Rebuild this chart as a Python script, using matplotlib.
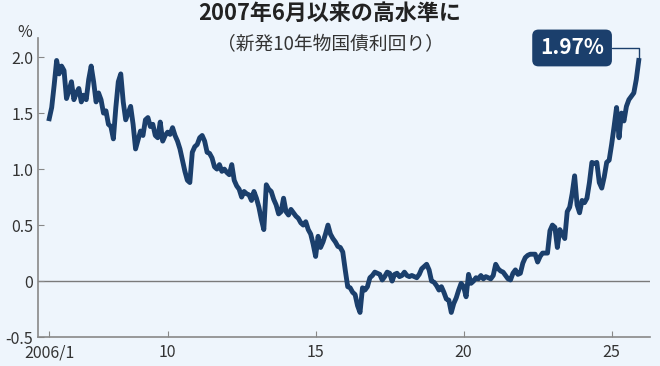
import matplotlib
matplotlib.use("Agg")
import matplotlib.pyplot as plt
from matplotlib import font_manager
import numpy as np

plt.rcParams['font.family'] = ['Noto Sans CJK JP', 'DejaVu Sans']

# monthly 10-year JGB yield (%)
y2006 = [1.45, 1.55, 1.75, 1.97, 1.85, 1.92, 1.88, 1.63, 1.70, 1.78, 1.62, 1.68]
y2007 = [1.72, 1.60, 1.66, 1.62, 1.80, 1.92, 1.78, 1.60, 1.68, 1.62, 1.50, 1.52]
y2008 = [1.40, 1.38, 1.27, 1.55, 1.78, 1.85, 1.60, 1.44, 1.50, 1.56, 1.40, 1.18]
y2009 = [1.26, 1.34, 1.30, 1.44, 1.46, 1.38, 1.40, 1.30, 1.28, 1.42, 1.25, 1.30]
y2010 = [1.33, 1.31, 1.37, 1.30, 1.25, 1.18, 1.08, 0.98, 0.90, 0.88, 1.15, 1.20]
y2011 = [1.22, 1.28, 1.30, 1.25, 1.15, 1.14, 1.10, 1.02, 1.00, 1.04, 0.98, 1.00]
y2012 = [0.97, 0.95, 1.04, 0.90, 0.85, 0.82, 0.75, 0.80, 0.78, 0.77, 0.72, 0.80]
y2013 = [0.74, 0.66, 0.55, 0.46, 0.86, 0.82, 0.80, 0.73, 0.68, 0.60, 0.62, 0.74]
y2014 = [0.62, 0.59, 0.64, 0.61, 0.58, 0.56, 0.52, 0.50, 0.53, 0.46, 0.42, 0.33]
y2015 = [0.22, 0.40, 0.30, 0.35, 0.42, 0.50, 0.42, 0.38, 0.35, 0.31, 0.30, 0.26]
y2016 = [0.10, -0.05, -0.06, -0.10, -0.12, -0.22, -0.28, -0.06, -0.08, -0.05, 0.03, 0.05]
y2017 = [0.08, 0.07, 0.06, 0.01, 0.04, 0.08, 0.07, 0.00, 0.06, 0.07, 0.04, 0.05]
y2018 = [0.08, 0.05, 0.04, 0.05, 0.04, 0.03, 0.06, 0.11, 0.13, 0.15, 0.10, 0.00]
y2019 = [-0.01, -0.04, -0.08, -0.05, -0.10, -0.16, -0.17, -0.28, -0.20, -0.15, -0.08, -0.02]
y2020 = [-0.05, -0.14, 0.06, -0.02, 0.00, 0.03, 0.02, 0.05, 0.02, 0.04, 0.03, 0.02]
y2021 = [0.05, 0.15, 0.11, 0.09, 0.08, 0.05, 0.02, 0.01, 0.07, 0.10, 0.06, 0.07]
y2022 = [0.16, 0.21, 0.23, 0.24, 0.24, 0.24, 0.17, 0.22, 0.25, 0.25, 0.25, 0.45]
y2023 = [0.50, 0.48, 0.30, 0.46, 0.42, 0.38, 0.62, 0.66, 0.78, 0.94, 0.68, 0.61]
y2024 = [0.72, 0.70, 0.74, 0.88, 1.06, 1.05, 1.06, 0.88, 0.83, 0.93, 1.06, 1.08]
y2025 = [1.22, 1.38, 1.55, 1.28, 1.50, 1.43, 1.56, 1.62, 1.65, 1.68, 1.80, 1.97]

yields = (y2006 + y2007 + y2008 + y2009 + y2010 + y2011 + y2012 + y2013 + y2014 +
          y2015 + y2016 + y2017 + y2018 + y2019 + y2020 + y2021 + y2022 + y2023 +
          y2024 + y2025)
t = 2006 + np.arange(len(yields)) / 12.0

tick_pos = [2006, 2010, 2015, 2020, 2025]
tick_lab = ['2006/1', '10', '15', '20', '25']
ytick_pos = [-0.5, 0, 0.5, 1.0, 1.5, 2.0]
ytick_lab = ['-0.5', '0', '0.5', '1.0', '1.5', '2.0']

bg = '#eef5fc'
navy = '#1b3f6c'

# narrow face for the axis numbers if present
names = {f.name for f in font_manager.fontManager.ttflist}
tick_font = ['Liberation Sans Narrow', 'Noto Sans CJK JP'] if 'Liberation Sans Narrow' in names else ['Noto Sans CJK JP']
tick_size = 13 if 'Liberation Sans Narrow' in names else 11.5

fig = plt.figure(figsize=(6.6, 3.66), dpi=100, facecolor=bg)
ax = fig.add_axes([0.058, 0.079, 0.927, 0.817], facecolor=bg)

ax.axhline(0, color='#7a7a7a', lw=1.0, zorder=1)
ax.plot(t, yields, color=navy, lw=3.5, solid_joinstyle='round', zorder=3)

ax.set_xlim(2005.63, 2026.30)
ax.set_ylim(-0.5, 2.17)
ax.set_xticks(tick_pos)
ax.set_xticklabels(tick_lab, family=tick_font, fontsize=tick_size)
ax.set_yticks(ytick_pos)
ax.set_yticklabels(ytick_lab, family=tick_font, fontsize=tick_size)
ax.tick_params(direction='in', length=4, color='#888888', labelcolor='#333333')
ax.tick_params(axis='x', pad=5)
ax.tick_params(axis='y', pad=3.5)

for s in ['top', 'right']:
    ax.spines[s].set_visible(False)
for s in ['left', 'bottom']:
    ax.spines[s].set_color('#888888')
    ax.spines[s].set_linewidth(1.2)

ax.text(-0.01, 1.02, '%', transform=ax.transAxes, ha='right', va='center',
        family=tick_font, fontsize=tick_size, color='#333333')

fig.text(0.5, 0.962, '2007年6月以来の高水準に', ha='center', va='center',
         fontsize=15.8, fontweight='bold', color='#222222')
fig.text(0.5, 0.877, '（新発10年物国債利回り）', ha='center', va='center',
         fontsize=13.5, color='#333333')

ax.annotate('1.97%', xy=(t[-1], yields[-1]), xytext=(-48, 9),
            textcoords='offset points', ha='center', va='center',
            fontsize=15, fontweight='bold', color='white',
            bbox=dict(boxstyle='round,pad=0.38,rounding_size=0.3', fc=navy, ec='none'),
            arrowprops=dict(arrowstyle='-', color=navy, lw=1.0, shrinkA=0, shrinkB=0,
                            connectionstyle='angle,angleA=0,angleB=90,rad=0'),
            zorder=5)

fig.savefig('out.png', dpi=100, facecolor=bg)
